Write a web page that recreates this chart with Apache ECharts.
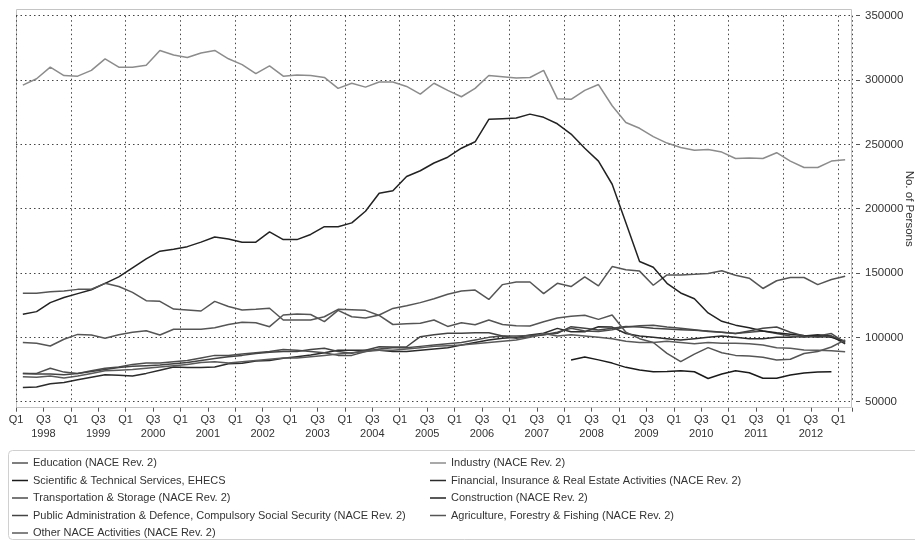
<!DOCTYPE html>
<html>
<head>
<meta charset="utf-8">
<script src="https://cdn.jsdelivr.net/npm/echarts@6/dist/echarts.min.js"></script>
<style>
html,body{margin:0;padding:0;background:#fff;}
#chart{width:915px;height:542px;}
</style>
</head>
<body>
<div id="chart"></div>
<script>
// Quarterly categories 1998 Q1 .. 2013 Q1
const startYear = 1998;
const endYear = 2013;
const quarters = ['Q1', 'Q2', 'Q3', 'Q4'];
const categories = [];
for (let y = startYear; y <= endYear; y++) {
  for (let q = 0; q < 4; q++) {
    if (y === endYear && q > 0) break;
    categories.push(y + ' ' + quarters[q]);
  }
}

// Values in thousands of persons
const education = [96, 95.4, 93.3, 98.5, 102.3, 101.8, 99.3, 102, 104, 105.2, 101.8, 106.3, 106.3, 106.3, 107.5, 110, 111.7, 111.4, 108.3, 117.4, 118.2, 117.8, 112.2, 121, 116, 115, 117.4, 122.5, 124.5, 127, 130, 133.5, 136, 136.8, 129.5, 141, 143, 143, 134, 142, 139.5, 147, 140, 155, 152.5, 151.5, 140.5, 148.5, 148.5, 149, 149.7, 151.8, 148.3, 146, 138, 144, 146.5, 146.5, 141, 145, 147.5];
const industry = [296, 301, 310, 303.5, 303, 307.5, 316.5, 310, 310, 311.5, 323, 319.5, 317.5, 321, 323, 316.5, 312, 305, 311, 303, 304, 303.5, 302, 293.5, 297.5, 294.5, 298.5, 298.5, 295, 289, 297.5, 292, 287, 293.5, 303.5, 302.5, 301.5, 302, 307.5, 285.5, 285, 292, 296.5, 280, 267, 262.5, 256, 251, 247.5, 245.5, 246, 244, 239, 239.5, 239, 243.5, 237, 232, 232, 237, 238];
const scientific = [null, null, null, null, null, null, null, null, null, null, null, null, null, null, null, null, null, null, null, null, null, null, null, null, null, null, null, null, null, null, null, null, null, null, null, null, null, null, null, null, 82.4, 84.8, 82.5, 80, 76.7, 74.6, 73.3, 73.5, 74, 73.3, 68, 71.5, 74, 72.5, 68.2, 68.2, 70.8, 72.3, 73, 73.3, null];
const financial = [61, 61.5, 64, 65, 67, 69, 71, 70.5, 70, 72, 74.5, 77, 76.5, 76.5, 77, 79.5, 79.8, 81.6, 82, 83.7, 85, 86.3, 88, 90, 90, 90, 90, 89, 89, 90, 91, 92, 94, 96, 98, 99.3, 100, 101.8, 103.2, 107, 104.4, 104.4, 108.3, 108, 103, 101, 100, 99, 98, 99, 100, 101, 100, 99, 99, 100, 100, 101, 102, 101, 95];
const transport = [72, 72, 76, 73, 72, 74, 76, 77, 79, 80, 80, 81, 82, 84, 86, 86, 87, 88, 89, 90.5, 90, 89, 88, 86, 86, 89, 91, 92, 92, 93, 94, 95, 96, 98, 100, 101, 101, 101.5, 102, 104, 107, 105, 104.5, 106, 108, 109, 109.5, 108, 107, 106, 104.5, 104, 103, 104, 105, 103, 101, 100, 101, 103, 96];
const construction = [118, 120, 127, 131, 134, 137, 142, 147, 154, 161, 167, 168.5, 170.5, 174, 178, 176.5, 174, 174, 182, 176, 176, 180, 186, 186, 189, 198, 212, 214, 225, 229.5, 235.5, 240, 247, 252, 269.5, 270, 270.5, 273.5, 271, 266, 258, 247, 237, 219, 189, 159, 154.5, 142, 134.5, 130, 119, 112.5, 109.5, 107.5, 105, 103.5, 102.5, 101.5, 101, 100, 96.5];
const publicAdmin = [72, 71.5, 71.5, 71, 72, 73.5, 75, 76.5, 77.5, 78, 78.5, 79.5, 80.5, 82, 83.5, 85, 86, 87.5, 88.5, 89, 89, 90.5, 91.5, 89, 87.6, 90, 92.7, 92.5, 92.7, 100.5, 102, 103.2, 103.2, 103.5, 103.6, 101, 99.3, 100.5, 102, 103.2, 108.3, 107, 105.7, 107, 108.5, 108, 107, 106.5, 106, 105.5, 105, 104, 103, 105, 107, 108, 104, 101, 100, 101, 97];
const agriculture = [134.3, 134.3, 135.5, 136, 137.3, 137.4, 142, 139.5, 135, 128.5, 128, 122, 121.3, 120.5, 128, 124, 121.3, 121.8, 122.6, 113.5, 113.5, 113.5, 116, 121.8, 121.5, 121, 117, 110, 110.5, 111, 113.5, 108.5, 111.4, 109.8, 113.5, 110, 109, 108.8, 112.2, 115, 116.5, 117.2, 114, 117.4, 104, 99, 96, 87.6, 81.1, 87, 92, 88, 86, 85.5, 84.5, 82.4, 83, 87.5, 89, 92.5, 98];
const otherNace = [69.4, 69, 70, 68.5, 70, 72, 74, 74.5, 75, 76, 77, 78, 79, 80.5, 81, 80, 81, 82, 83, 84, 84, 85, 86, 87, 88, 89, 90, 90, 91, 92, 93, 93.5, 94, 95, 96, 97, 98, 100, 103, 101, 102, 101, 100, 99, 97, 96, 96, 97, 96, 95, 96, 95.5, 95.4, 95, 94, 92, 91.5, 90.2, 90, 89.6, 88.9];

const yTicks = [50000, 100000, 150000, 200000, 250000, 300000, 350000];

const seriesDefs = [
  { name: 'Education (NACE Rev. 2)', data: education, color: '#555555' },
  { name: 'Industry (NACE Rev. 2)', data: industry, color: '#8c8c8c' },
  { name: 'Scientific & Technical Services, EHECS', data: scientific, color: '#1a1a1a' },
  { name: 'Financial, Insurance & Real Estate Activities (NACE Rev. 2)', data: financial, color: '#2b2b2b' },
  { name: 'Transportation & Storage (NACE Rev. 2)', data: transport, color: '#4d4d4d' },
  { name: 'Construction (NACE Rev. 2)', data: construction, color: '#222222' },
  { name: 'Public Administration & Defence, Compulsory Social Security (NACE Rev. 2)', data: publicAdmin, color: '#444444' },
  { name: 'Agriculture, Forestry & Fishing (NACE Rev. 2)', data: agriculture, color: '#555555' },
  { name: 'Other NACE Activities (NACE Rev. 2)', data: otherNace, color: '#5a5a5a' }
];

const FONT = '"Liberation Sans", Arial, sans-serif';
const chart = echarts.init(document.getElementById('chart'), null, { renderer: 'canvas' });

const leftLegend = [0, 2, 4, 6, 8].map(i => seriesDefs[i].name);
const rightLegend = [1, 3, 5, 7].map(i => seriesDefs[i].name);

const legendBase = {
  orient: 'vertical',
  top: 456,
  icon: 'rect',
  itemWidth: 16,
  itemHeight: 1.5,
  itemGap: 3.5,
  padding: 0,
  selectedMode: false,
  textStyle: { fontSize: 11, color: '#333', fontFamily: FONT, lineHeight: 14 }
};

chart.setOption({
  animation: false,
  backgroundColor: '#fff',
  textStyle: { fontFamily: FONT },
  graphic: [
    { type: 'rect', z: -1, shape: { x: 16.5, y: 9.5, width: 835, height: 398 }, style: { fill: 'none', stroke: '#c4c4c4', lineWidth: 1 } },
    { type: 'rect', z: -1, shape: { x: 8.5, y: 450.5, width: 920, height: 89, r: 4 }, style: { fill: 'none', stroke: '#d0d0d0', lineWidth: 1 } }
  ],
  grid: { left: 16, right: 63, top: 15.7, bottom: 140.3, containLabel: false, outerBoundsMode: 'none' },
  legend: [
    Object.assign({ left: 12, data: leftLegend }, legendBase),
    Object.assign({ left: 430, data: rightLegend }, legendBase)
  ],
  xAxis: {
    type: 'category',
    data: categories,
    boundaryGap: true,
    offset: 6,
    axisLine: { show: false },
    axisTick: { show: true, interval: (i) => i % 2 === 0, length: 4, lineStyle: { color: '#555' } },
    axisLabel: {
      interval: 0,
      hideOverlap: false,
      fontSize: 11,
      color: '#333',
      lineHeight: 14,
      margin: 5,
      padding: [0, 13.7, 0, 0],
      formatter: (v) => {
        const parts = v.split(' ');
        if (parts[1] === 'Q1') return 'Q1';
        if (parts[1] === 'Q3') return 'Q3\n' + parts[0];
        return '';
      }
    },
    splitLine: { show: true, interval: (i) => i % 4 === 0, lineStyle: { color: '#444', type: [1.5, 3], width: 1 } }
  },
  yAxis: {
    type: 'value',
    position: 'right',
    min: yTicks[0],
    max: yTicks[yTicks.length - 1],
    interval: 50000,
    offset: 4,
    name: 'No. of Persons',
    nameLocation: 'middle',
    nameRotate: -90,
    nameGap: 47,
    nameMoveOverlap: false,
    nameTextStyle: { fontSize: 11.5, color: '#333' },
    axisLine: { show: false },
    axisTick: { show: true, length: 4, lineStyle: { color: '#555' } },
    axisLabel: { fontSize: 11.5, color: '#333', margin: 9, formatter: (v) => String(v) },
    splitLine: { show: true, lineStyle: { color: '#444', type: [1.5, 3], width: 1 } }
  },
  series: seriesDefs.map(s => ({
    name: s.name,
    type: 'line',
    symbol: 'none',
    showSymbol: false,
    connectNulls: false,
    color: s.color,
    lineStyle: { color: s.color, width: 1.5 },
    data: s.data.map(v => v === null ? null : v * 1000)
  }))
});
</script>
</body>
</html>
